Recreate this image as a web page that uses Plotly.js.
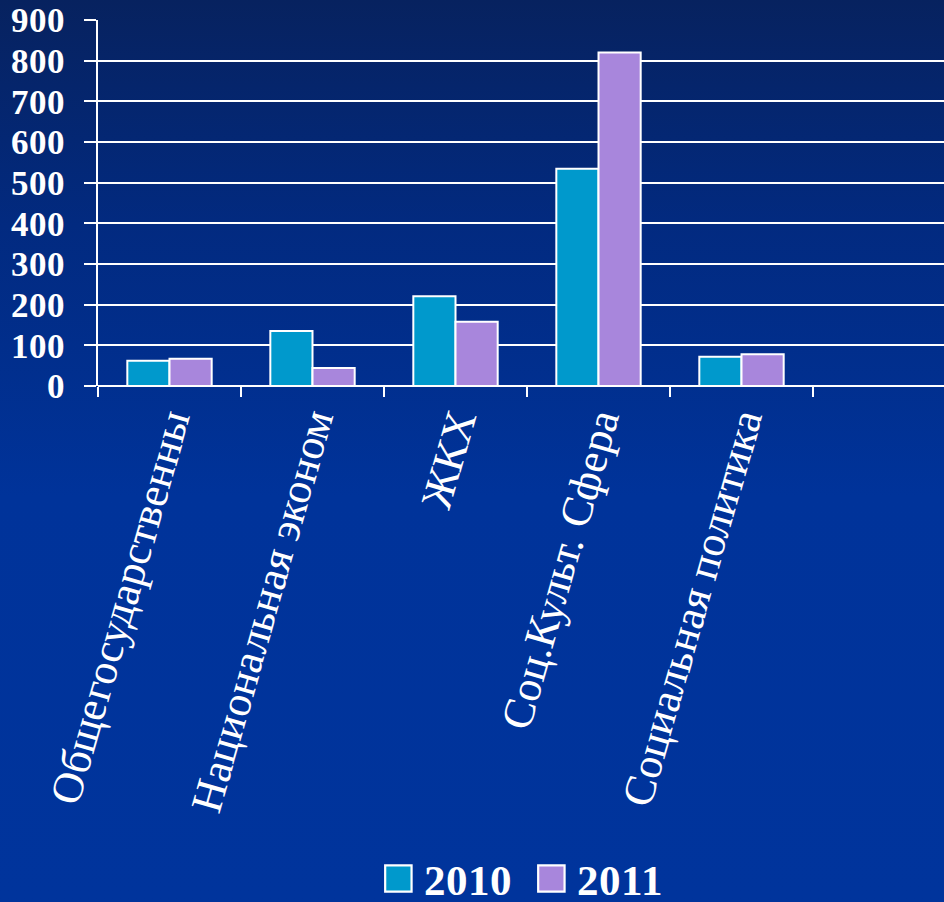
<!DOCTYPE html>
<html>
<head>
<meta charset="utf-8">
<script src="https://cdn.plot.ly/plotly-3.0.1.min.js"></script>
<style>
@font-face{font-family:'LibSerifX';src:local('Liberation Serif'),local('LiberationSerif');font-weight:400;font-style:normal;}
@font-face{font-family:'LibSerifX';src:local('Liberation Serif Bold'),local('LiberationSerif-Bold');font-weight:700;font-style:normal;}
html,body{margin:0;padding:0;width:944px;height:902px;overflow:hidden;}
body{font-family:'LibSerifX','Liberation Serif',serif;background:linear-gradient(180deg,#07225f 0%,#022a80 25%,#00339a 55%,#00349c 100%);}
#chart{position:relative;width:944px;height:902px;}
</style>
</head>
<body>
<div id="chart"></div>
<script>
const categories = ["Общегосударственны", "Национальная эконом", "ЖКХ", "Соц.Культ. Сфера", "Социальная политика", " "];
const values2010 = [62, 135, 221, 534, 72, null];
const values2011 = [67, 44, 158, 820, 78, null];
const seriesNames = ["2010", "2011"];
const yTicks = [0, 100, 200, 300, 400, 500, 600, 700, 800, 900];

const SERIF = 'LibSerifX, Liberation Serif, serif';

function buildTraces(){
  return [
    {type:'bar', name:seriesNames[0], x:categories, y:values2010,
     marker:{color:'#0099cc', line:{color:'#ffffff', width:2}}},
    {type:'bar', name:seriesNames[1], x:categories, y:values2011,
     marker:{color:'#a886dc', line:{color:'#ffffff', width:2}}}
  ];
}

function buildLayout(){
  return {
    width:944, height:902,
    paper_bgcolor:'rgba(0,0,0,0)', plot_bgcolor:'rgba(0,0,0,0)',
    margin:{l:98, r:0, t:20, b:516},
    barmode:'group', bargap:0.41, bargroupgap:0,
    showlegend:true,
    legend:{orientation:'h', x:0.547, xanchor:'center', xref:'container', yref:'container', y:0.026, yanchor:'middle',
            font:{family:SERIF, size:43, color:'#ffffff', weight:'bold'},
            itemwidth:50, traceorder:'normal', bgcolor:'rgba(0,0,0,0)'},
    xaxis:{type:'category', categoryorder:'array', categoryarray:categories,
           range:[-0.5, 5.416], tickson:'boundaries', ticks:'outside', ticklen:10, tickwidth:2, tickcolor:'#ffffff',
           showline:false, showgrid:false, tickangle:-74, automargin:false,
           tickfont:{family:SERIF, size:44, color:'#ffffff'}, fixedrange:true},
    yaxis:{range:[0,900], tickvals:yTicks, ticks:'outside', ticklen:12, tickwidth:2, tickcolor:'#ffffff',
           showline:true, linecolor:'#ffffff', linewidth:2, showgrid:true, gridcolor:'#ffffff', gridwidth:2,
           zeroline:true, zerolinecolor:'#ffffff', zerolinewidth:2, ticklabelstandoff:12, automargin:false,
           tickfont:{family:SERIF, size:35, color:'#ffffff', weight:'bold'}, fixedrange:true}
  };
}

function fixLegend(){
  document.querySelectorAll('.legendpoints path').forEach(function(p){
    p.setAttribute('transform', 'translate(34,0) scale(2.2)');
    p.style.strokeWidth = '1px';
  });
  document.querySelectorAll('.legend .scrollbox').forEach(function(g){ g.removeAttribute('clip-path'); });
  document.querySelectorAll('.legend').forEach(function(g){ g.removeAttribute('clip-path'); });
}

function draw(){
  return Plotly.newPlot('chart', buildTraces(), buildLayout(), {displayModeBar:false, staticPlot:true}).then(fixLegend);
}

draw();
if (document.fonts && document.fonts.load) {
  Promise.all([
    document.fonts.load('44px LibSerifX', 'Общ'),
    document.fonts.load('bold 35px LibSerifX', '900')
  ]).catch(function(){}).then(function(){ return document.fonts.ready; }).then(function(){ draw(); });
}
</script>
</body>
</html>
